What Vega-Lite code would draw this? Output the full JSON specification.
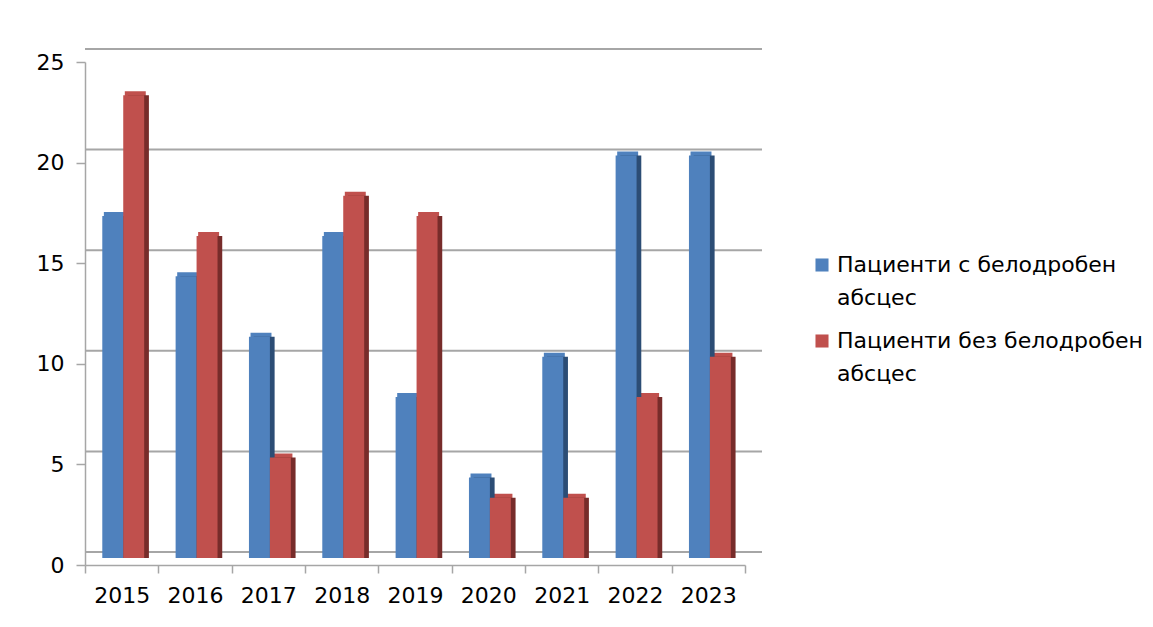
{
  "$schema": "https://vega.github.io/schema/vega-lite/v6.json",
  "autosize": "none",
  "width": 660,
  "height": 503,
  "padding": {"left": 85, "top": 62, "right": 408, "bottom": 62},
  "background": "white",
  "config": {
    "view": {"stroke": null},
    "font": "DejaVu Sans",
    "axis": {"labelFont": "DejaVu Sans", "labelFontSize": 22, "labelColor": "#000000", "domainColor": "#a6a6a6", "tickColor": "#a6a6a6", "domainWidth": 1.5, "tickWidth": 1.5}
  },
  "datasets": {
    "bars": [
      {"year": "2015", "series": "Пациенти с белодробен абсцес", "value": 17},
      {"year": "2015", "series": "Пациенти без белодробен абсцес", "value": 23},
      {"year": "2016", "series": "Пациенти с белодробен абсцес", "value": 14},
      {"year": "2016", "series": "Пациенти без белодробен абсцес", "value": 16},
      {"year": "2017", "series": "Пациенти с белодробен абсцес", "value": 11},
      {"year": "2017", "series": "Пациенти без белодробен абсцес", "value": 5},
      {"year": "2018", "series": "Пациенти с белодробен абсцес", "value": 16},
      {"year": "2018", "series": "Пациенти без белодробен абсцес", "value": 18},
      {"year": "2019", "series": "Пациенти с белодробен абсцес", "value": 8},
      {"year": "2019", "series": "Пациенти без белодробен абсцес", "value": 17},
      {"year": "2020", "series": "Пациенти с белодробен абсцес", "value": 4},
      {"year": "2020", "series": "Пациенти без белодробен абсцес", "value": 3},
      {"year": "2021", "series": "Пациенти с белодробен абсцес", "value": 10},
      {"year": "2021", "series": "Пациенти без белодробен абсцес", "value": 3},
      {"year": "2022", "series": "Пациенти с белодробен абсцес", "value": 20},
      {"year": "2022", "series": "Пациенти без белодробен абсцес", "value": 8},
      {"year": "2023", "series": "Пациенти с белодробен абсцес", "value": 20},
      {"year": "2023", "series": "Пациенти без белодробен абсцес", "value": 10}
    ],
    "grid": [{"v": 0}, {"v": 5}, {"v": 10}, {"v": 15}, {"v": 20}, {"v": 25}]
  },
  "layer": [
    {
      "data": {"name": "grid"},
      "mark": {"type": "rule", "color": "#a6a6a6", "strokeWidth": 2, "xOffset": 17, "yOffset": -13},
      "encoding": {
        "y": {"field": "v", "type": "quantitative", "scale": {"domain": [0, 25], "nice": false, "zero": true}, "axis": {"values": [0, 5, 10, 15, 20, 25], "title": null, "grid": false, "tickSize": 9, "labelPadding": 12}}
      }
    },
    {
      "data": {"name": "bars"},
      "mark": {"type": "bar", "yOffset": -11},
      "encoding": {
        "x": {"field": "year", "type": "nominal", "scale": {"paddingInner": 0, "paddingOuter": 0}, "axis": {"title": null, "labelAngle": 0, "tickBand": "extent", "tickSize": 8, "labelPadding": 12}},
        "xOffset": {"field": "series", "type": "nominal", "sort": null, "scale": {"paddingInner": 0, "paddingOuter": 0.75, "align": 0.6}},
        "y": {"field": "value", "type": "quantitative", "scale": {"domain": [0, 25], "nice": false}},
        "color": {"field": "series", "type": "nominal", "sort": null}
      }
    },
    {
      "data": {"name": "bars"},
      "mark": {"type": "bar", "yOffset": -7},
      "encoding": {
        "x": {"field": "year", "type": "nominal"},
        "xOffset": {"field": "series", "type": "nominal", "sort": null, "scale": {"paddingInner": 0, "paddingOuter": 0.75, "align": 0.7}},
        "y": {"field": "value", "type": "quantitative", "scale": {"domain": [0, 25], "nice": false}},
        "fill": {"field": "series", "type": "nominal", "sort": null, "scale": {"range": ["#2c4d75", "#772c2a"]}, "legend": null}
      }
    },
    {
      "data": {"name": "bars"},
      "mark": {"type": "bar", "yOffset": -7},
      "encoding": {
        "x": {"field": "year", "type": "nominal"},
        "xOffset": {"field": "series", "type": "nominal", "sort": null, "scale": {"paddingInner": 0, "paddingOuter": 0.75, "align": 0.55}},
        "y": {"field": "value", "type": "quantitative", "scale": {"domain": [0, 25], "nice": false}},
        "color": {"field": "series", "type": "nominal", "sort": null, "scale": {"range": ["#4f81bd", "#c0504d"]},
          "legend": {"orient": "none", "legendX": 726, "legendY": 192, "title": null, "symbolType": "square", "symbolSize": 170, "symbolStrokeWidth": 0, "labelFont": "DejaVu Sans", "labelFontSize": 22, "labelColor": "#000000", "labelLimit": 400, "rowPadding": 21, "labelOffset": 4,
            "labelExpr": "datum.label == 'Пациенти с белодробен абсцес' ? ['Пациенти с белодробен', 'абсцес'] : ['Пациенти без белодробен', 'абсцес']",
            "encode": {"labels": {"update": {"lineHeight": {"value": 33}}}}}}
      }
    }
  ],
  "resolve": {"scale": {"xOffset": "independent"}}
}
